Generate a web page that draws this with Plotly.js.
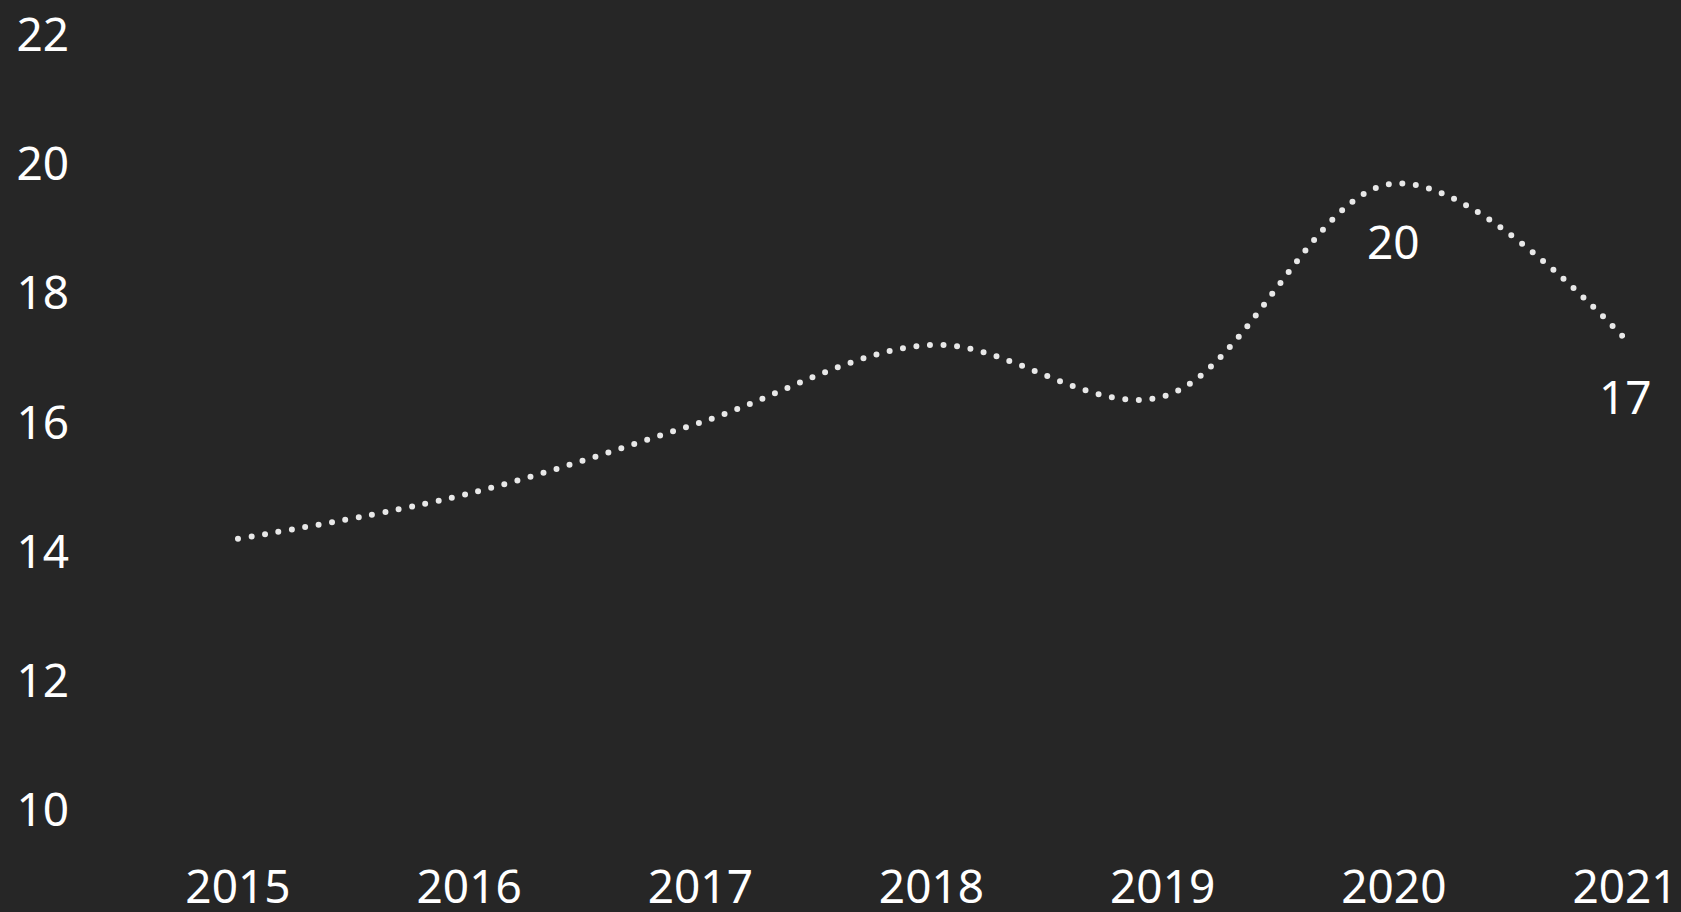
<!DOCTYPE html>
<html>
<head>
<meta charset="utf-8">
<script src="https://cdn.plot.ly/plotly-3.0.1.min.js"></script>
<style>
  html, body { margin: 0; padding: 0; background: #262626; }
  #chart { width: 1681px; height: 912px; }
  .js-line { stroke-linecap: round; }
</style>
</head>
<body>
<div id="chart"></div>
<script>
const years = [2015, 2016, 2017, 2018, 2019, 2020, 2021];
const values = [14.2, 14.9, 16.0, 17.2, 16.4, 19.7, 17.3];
const labelYears = [2020, 2021];
const labelValues = [19.7, 17.3];
const labelTexts = ["20", "17"];
const yTicks = [10, 12, 14, 16, 18, 20, 22];

const FONT = "Source Sans Pro, Noto Sans, sans-serif";

const trace = {
  x: years,
  y: values,
  type: "scatter",
  mode: "lines",
  line: { color: "#e8e8e8", width: 6, shape: "spline", dash: "0px,13.6px" },
  cliponaxis: false,
  hoverinfo: "skip"
};

const annotations = labelYears.map((yr, i) => ({
  x: yr, y: labelValues[i], text: labelTexts[i],
  showarrow: false, yshift: -57,
  font: { family: FONT, size: 46, color: "#ffffff" }
}));

const layout = {
  width: 1681, height: 912,
  paper_bgcolor: "#262626", plot_bgcolor: "#262626",
  margin: { l: 70, r: 56, t: 35, b: 102 },
  showlegend: false,
  font: { family: FONT, size: 46, color: "#ffffff" },
  xaxis: {
    range: [2015 - (238 - 70) / 231.2, 2021],
    tickvals: years, ticktext: years.map(String),
    showgrid: false, zeroline: false, showline: false, ticks: "",
    ticklabelstandoff: 46,
    tickfont: { family: FONT, size: 46, color: "#ffffff" }
  },
  yaxis: {
    range: [10, 22],
    tickvals: yTicks, ticktext: yTicks.map(String),
    showgrid: false, zeroline: false, showline: false, ticks: "",
    tickfont: { family: FONT, size: 46, color: "#ffffff" }
  },
  annotations: annotations
};

Plotly.newPlot("chart", [trace], layout, { displayModeBar: false, staticPlot: true });
</script>
</body>
</html>
